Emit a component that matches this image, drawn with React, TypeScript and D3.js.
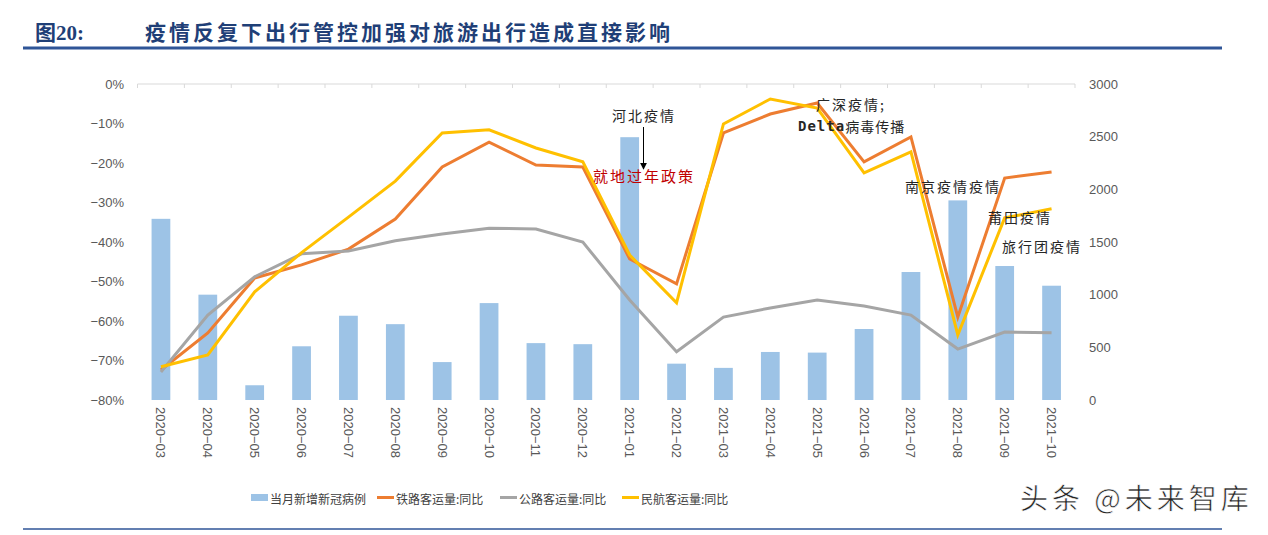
import React from "react";
import * as d3 from "d3";

const categories = ["2020-03","2020-04","2020-05","2020-06","2020-07","2020-08","2020-09","2020-10","2020-11","2020-12","2021-01","2021-02","2021-03","2021-04","2021-05","2021-06","2021-07","2021-08","2021-09","2021-10"];
const newCases = [1720,1000,140,510,800,720,360,920,540,530,2495,345,305,456,450,674,1215,1895,1272,1085];
const railway = [-72.4,-63.0,-49.1,-45.8,-41.8,-34.2,-21.0,-14.7,-20.5,-21.0,-44.3,-50.6,-12.4,-7.6,-4.8,-19.7,-13.4,-59.0,-23.8,-22.3];
const highway = [-72.9,-58.5,-48.8,-43.0,-42.3,-39.7,-38.0,-36.5,-36.7,-40.0,-54.7,-67.8,-59.0,-56.7,-54.7,-56.2,-58.5,-67.1,-62.8,-63.0];
const aviation = [-71.6,-68.6,-52.6,-42.7,-33.7,-24.6,-12.4,-11.6,-16.2,-19.7,-43.3,-55.4,-10.1,-3.8,-6.1,-22.5,-17.2,-63.5,-33.9,-31.6];
const leftTicks = [0,-10,-20,-30,-40,-50,-60,-70,-80];
const rightTicks = [0,500,1000,1500,2000,2500,3000];
const legendItems = ["当月新增新冠病例","铁路客运量:同比","公路客运量:同比","民航客运量:同比"];

const CJK = "'Noto Sans CJK SC', sans-serif";
const LAT = "'Liberation Sans', Arial, sans-serif";

export default function App() {
  const left = 137.5, right = 1075, top = 84, bottom = 400;
  const x = d3.scaleBand<string>().domain(categories).range([left, right]).padding(0);
  const yL = d3.scaleLinear().domain([-80, 0]).range([bottom, top]);
  const yR = d3.scaleLinear().domain([0, 3000]).range([bottom, top]);
  const bw = x.bandwidth() * 0.4;
  const cx = (c: string) => (x(c) as number) + x.bandwidth() / 2;
  const line = (vals: number[]) =>
    d3.line<number>().x((_, i) => cx(categories[i])).y((v) => yL(v))(vals) as string;

  const series = [
    { vals: railway, color: "#ED7D31" },
    { vals: highway, color: "#A5A5A5" },
    { vals: aviation, color: "#FFC000" },
  ];
  const legendColors = ["#9DC3E6", "#ED7D31", "#A5A5A5", "#FFC000"];
  const legendX = [251, 377, 500, 622];

  return (
    <svg width={1268} height={535} style={{ position: "absolute", left: 0, top: 0, background: "#fff" }}>
      <defs>
        <marker id="arr" viewBox="0 0 10 10" refX="9" refY="5" markerWidth="7" markerHeight="7" orient="auto">
          <path d="M0,0 L10,5 L0,10 z" fill="#000" />
        </marker>
      </defs>
      {/* title */}
      <text x={35} y={40} fontFamily={"'Liberation Serif', 'Noto Sans CJK SC', serif"} fontWeight={700} fontSize={21} fill="#1F3F77">图20:</text>
      <text x={145} y={40} fontFamily={CJK} fontWeight={700} fontSize={21} letterSpacing={3} fill="#1F3F77">疫情反复下出行管控加强对旅游出行造成直接影响</text>
      <line x1={23} x2={1222} y1={48} y2={48} stroke="#2F5597" strokeWidth={3} />
      <line x1={23} x2={1222} y1={529} y2={529} stroke="#2F5597" strokeWidth={1.5} />

      {/* bars */}
      {categories.map((c, i) => (
        <rect key={c} x={cx(c) - bw / 2} y={yR(newCases[i])} width={bw} height={bottom - yR(newCases[i])} fill="#9DC3E6" />
      ))}

      {/* category axis at 0% */}
      <line x1={left} x2={right} y1={top} y2={top} stroke="#D9D9D9" strokeWidth={1} />
      {categories.map((c) => (
        <line key={"t" + c} x1={x(c) as number} x2={x(c) as number} y1={top} y2={top + 4} stroke="#D9D9D9" />
      ))}
      <line x1={right} x2={right} y1={top} y2={top + 4} stroke="#D9D9D9" />

      {/* lines */}
      {series.map((s, k) => (
        <path key={k} d={line(s.vals)} fill="none" stroke={s.color} strokeWidth={3} strokeLinejoin="miter" />
      ))}

      {/* left axis */}
      {leftTicks.map((t) => (
        <text key={"l" + t} x={124} y={yL(t)} textAnchor="end" dominantBaseline="central" fontFamily={LAT} fontSize={13} fill="#595959">
          {t === 0 ? "0%" : `−${-t}%`}
        </text>
      ))}
      {/* right axis */}
      {rightTicks.map((t) => (
        <text key={"r" + t} x={1089} y={yR(t)} textAnchor="start" dominantBaseline="central" fontFamily={LAT} fontSize={13} fill="#595959">
          {t}
        </text>
      ))}
      {/* x labels */}
      {categories.map((c) => (
        <text key={"x" + c} transform={`translate(${cx(c)},407) rotate(90)`} textAnchor="start" dominantBaseline="central" fontFamily={LAT} fontSize={13} fill="#595959">
          {c.replace("-", "−")}
        </text>
      ))}

      {/* annotations */}
      <text x={612} y={115} dominantBaseline="central" fontFamily={CJK} fontSize={14} letterSpacing={2} fill="#262626">河北疫情</text>
      <line x1={643.5} x2={643.5} y1={127} y2={169} stroke="#000" strokeWidth={1} markerEnd="url(#arr)" />
      <text x={593} y={175} dominantBaseline="central" fontFamily={CJK} fontSize={15} letterSpacing={2} fill="#C00000">就地过年政策</text>
      <text x={816} y={104} dominantBaseline="central" fontFamily={CJK} fontSize={14} letterSpacing={2} fill="#262626">广深疫情;</text>
      <text x={798} y={126} dominantBaseline="central" fontFamily={CJK} fontSize={14} letterSpacing={1} fill="#262626">
        <tspan fontFamily={"'DejaVu Sans Mono', monospace"} fontWeight={700}>Delta</tspan>病毒传播
      </text>
      <text x={905} y={186} dominantBaseline="central" fontFamily={CJK} fontSize={14} letterSpacing={2} fill="#262626">南京疫情疫情</text>
      <text x={988} y={217} dominantBaseline="central" fontFamily={CJK} fontSize={14} letterSpacing={2} fill="#262626">莆田疫情</text>
      <text x={1002} y={246} dominantBaseline="central" fontFamily={CJK} fontSize={14} letterSpacing={2} fill="#262626">旅行团疫情</text>

      {/* legend */}
      {legendItems.map((name, i) => (
        <g key={name}>
          {i === 0 ? (
            <rect x={legendX[i]} y={494} width={17} height={7} fill={legendColors[i]} />
          ) : (
            <line x1={legendX[i]} x2={legendX[i] + 17} y1={497.5} y2={497.5} stroke={legendColors[i]} strokeWidth={3} />
          )}
          <text x={legendX[i] + 19} y={498} dominantBaseline="central" fontFamily={CJK} fontSize={12} fill="#404040">{name}</text>
        </g>
      ))}

      {/* watermark */}
      <text x={1020} y={497} dominantBaseline="central" fontFamily={CJK} fontSize={28} letterSpacing={4} fill="#222" stroke="#fff" strokeWidth={0.6}>头条 @未来智库</text>
    </svg>
  );
}
